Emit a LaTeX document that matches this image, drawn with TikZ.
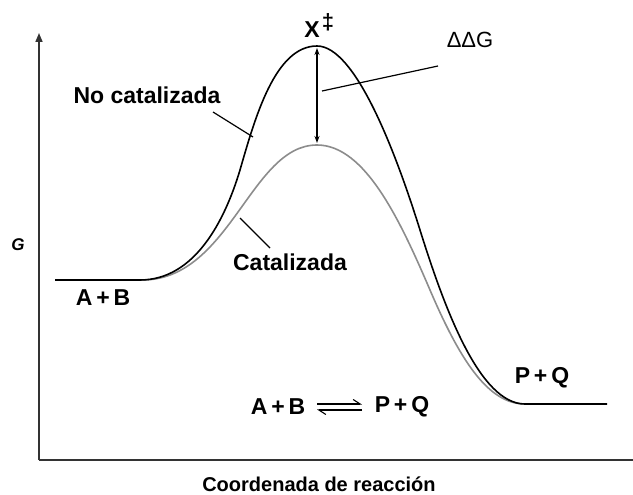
\documentclass[tikz,border=0pt]{standalone}
\usepackage{fontspec}
\setmainfont{Liberation Sans}
\usetikzlibrary{arrows.meta}
\begin{document}
\begin{tikzpicture}[x=1pt,y=-1pt,
  lbl/.style={font=\fontsize{23}{27}\selectfont\bfseries, inner sep=0pt},
  axisline/.style={line width=1.6pt, draw=black!80},
  uncat/.style={line width=1.6pt, draw=black},
  cat/.style={line width=1.6pt, draw=black!45},
  pointer/.style={line width=1.2pt, draw=black}]
\useasboundingbox (0,0) rectangle (633,495);
% axes
\coordinate (origin) at (39,460);
\coordinate (ytop) at (39,33);
\coordinate (xend) at (633,460);
\draw[axisline, -{Triangle[length=9pt,width=7pt]}] (origin) -- (ytop);
\draw[axisline] (origin) -- (xend);
% curves
\coordinate (s) at (140,280);
\coordinate (cpk) at (317,145);
\coordinate (upk) at (317,46);
\coordinate (pend) at (525,404);
\coordinate (rstart) at (55,280);
\coordinate (pfin) at (607,404);
\draw[cat] (s) .. controls (230,282) and (250,145) .. (cpk)
  .. controls (365,145) and (400,220) .. (430,290)
  .. controls (460,360) and (488,404) .. (pend);
\draw[uncat] (rstart) -- (s) .. controls (195,280) and (225,220) .. (240,170)
  .. controls (255,118) and (275,46) .. (upk)
  .. controls (355,46) and (395,150) .. (420,230)
  .. controls (445,310) and (480,404) .. (pend) -- (pfin);
% delta arrow
\coordinate (ptop) at (317,48);
\coordinate (pbot) at (317,143);
\draw[pointer, {Stealth[length=7pt,width=5pt]}-{Stealth[length=7pt,width=5pt]}] (ptop) -- (pbot);
% labels
\node[lbl] (xts) at (312,30) {X};
\node[lbl, font=\fontsize{22}{24}\selectfont\bfseries] (dag) at (328,22) {‡};
\node[lbl, font=\fontsize{22}{26}\selectfont] (ddg) at (470,40) {ΔΔG};
\node[lbl, font=\fontsize{17}{19}\selectfont\bfseries\itshape] (glab) at (18,245) {G};
\node[lbl] (nocat) at (147,95) {No catalizada};
\node[lbl] (catl) at (290,262) {Catalizada};
\node[lbl] (ab) at (103,298) {A\,+\,B};
\node[lbl] (pq) at (542,378) {P\,+\,Q};
\node[lbl] (eqab) at (278,407) {A\,+\,B};
\node[lbl] (eqpq) at (402,407) {P\,+\,Q};
\node[lbl, font=\fontsize{20}{24}\selectfont\bfseries] (xlab) at (319,484) {Coordenada de reacción};
% pointers
\coordinate (nc1) at (213,112); \coordinate (nc2) at (253,137);
\draw[pointer] (nc1) -- (nc2);
\coordinate (c1) at (240,218); \coordinate (c2) at (270,248);
\draw[pointer] (c1) -- (c2);
\coordinate (d1) at (322,91); \coordinate (d2) at (438,66);
\draw[pointer] (d1) -- (d2);
% equilibrium harpoons
\coordinate (h1a) at (317,404); \coordinate (h1b) at (362,404);
\coordinate (h2a) at (362,410); \coordinate (h2b) at (317,410);
\draw[line width=1.1pt, -{Straight Barb[left,length=7pt,width=9pt]}] (h1a) -- (h1b);
\draw[line width=1.1pt, -{Straight Barb[left,length=7pt,width=9pt]}] (h2a) -- (h2b);
\end{tikzpicture}
\end{document}
